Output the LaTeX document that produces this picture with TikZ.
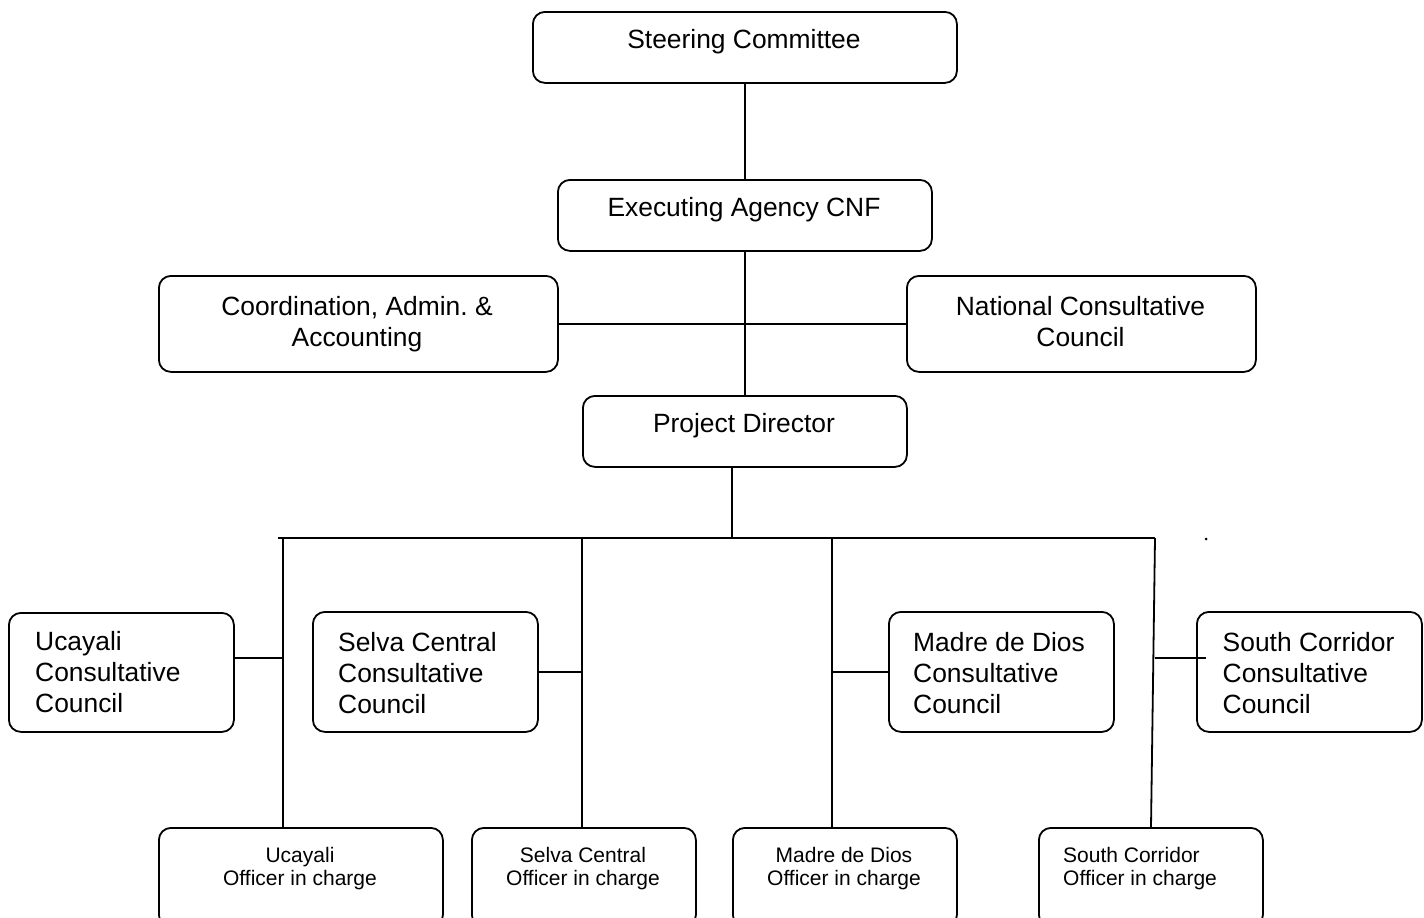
\documentclass[tikz,border=0pt]{standalone}
\usepackage{fontspec}
\setmainfont{Liberation Sans}
\begin{document}
\begin{tikzpicture}[x=1pt,y=-1pt,
  box/.style={draw, line width=1.8pt, rounded corners=12pt, inner sep=0pt, anchor=north west},
  big/.style={font=\fontsize{26.4}{31.3}\selectfont, inner sep=0pt},
  small/.style={font=\fontsize{21}{23.5}\selectfont, inner sep=0pt},
  link/.style={line width=1.8pt}]
\useasboundingbox (0,0) rectangle (1424,918);
\clip (0,0) rectangle (1424,918);
% boxes
\node[box, minimum width=424pt, minimum height=71pt] (sc) at (532,11) {};
\node[box, minimum width=374pt, minimum height=71pt] (ea) at (557,179) {};
\node[box, minimum width=399pt, minimum height=96pt] (caa) at (158,275) {};
\node[box, minimum width=349pt, minimum height=96pt] (ncc) at (906,275) {};
\node[box, minimum width=324pt, minimum height=71pt] (pd) at (582,395) {};
\node[box, minimum width=225pt, minimum height=119pt] (ucc) at (8,612) {};
\node[box, minimum width=225pt, minimum height=120pt] (scc) at (312,611) {};
\node[box, minimum width=225pt, minimum height=120pt] (mcc) at (888,611) {};
\node[box, minimum width=225pt, minimum height=120pt] (socc) at (1196,611) {};
\node[box, minimum width=284pt, minimum height=99pt] (uo) at (158,827) {};
\node[box, minimum width=224pt, minimum height=99pt] (so) at (471,827) {};
\node[box, minimum width=224pt, minimum height=99pt] (mo) at (732,827) {};
\node[box, minimum width=224pt, minimum height=99pt] (soo) at (1038,827) {};
% texts
\node[big, anchor=north] (sct) at (744,29) {Steering Committee};
\node[big, anchor=north] (eat) at (744,197.5) {Executing Agency CNF};
\node[big, anchor=north, align=center] (caat) at (357,296) {Coordination, Admin.\ \&\\Accounting};
\node[big, anchor=north, align=center] (ncct) at (1080.5,296) {National Consultative\\Council};
\node[big, anchor=north] (pdt) at (744,413.5) {Project Director};
\node[big, anchor=north west, align=left] (ucct) at (35,631) {Ucayali\\Consultative\\Council};
\node[big, anchor=north west, align=left] (scct) at (338,632) {Selva Central\\Consultative\\Council};
\node[big, anchor=north west, align=left] (mcct) at (913,632) {Madre de Dios\\Consultative\\Council};
\node[big, anchor=north west, align=left] (socct) at (1222.5,632) {South Corridor\\Consultative\\Council};
\node[small, anchor=north, align=center] (uot) at (300,847) {Ucayali\\Officer in charge};
\node[small, anchor=north, align=center] (sot) at (583,847) {Selva Central\\Officer in charge};
\node[small, anchor=north, align=center] (mot) at (844,847) {Madre de Dios\\Officer in charge};
\node[small, anchor=north west, align=left] (soot) at (1063,847) {South Corridor\\Officer in charge};
% junction coordinates
\coordinate (busL) at (278,538);
\coordinate (busR) at (1155,538);
\coordinate (pdj) at (732,538);
\coordinate (uj) at (283,538);
\coordinate (uh) at (283,658);
\coordinate (sj) at (582,538);
\coordinate (mj) at (832,538);
\coordinate (soj) at (1155,538);
\coordinate (sob) at (1151,827);
\coordinate (soh) at (1155,658);
\coordinate (sohe) at (1206,658);
% connectors
\draw[link] (sc.south) -- (ea.north);
\draw[link] (ea.south) -- (pd.north);
\draw[link] (caa.east) -- (ncc.west);
\draw[link] (pd.south -| pdj) -- (pdj);
\draw[link] (busL) -- (busR);
\draw[link] (uj) -- (uj |- uo.north);
\draw[link] (uh -| ucc.east) -- (uh);
\draw[link] (sj) -- (sj |- so.north);
\draw[link] (scc.east) -- (scc.east -| sj);
\draw[link] (mj) -- (mj |- mo.north);
\draw[link] (mcc.west) -- (mcc.west -| mj);
\draw[link] (soj) -- (sob);
\draw[link] (soh) -- (sohe);
\fill (1206,539) circle (1.5pt);
\end{tikzpicture}
\end{document}
